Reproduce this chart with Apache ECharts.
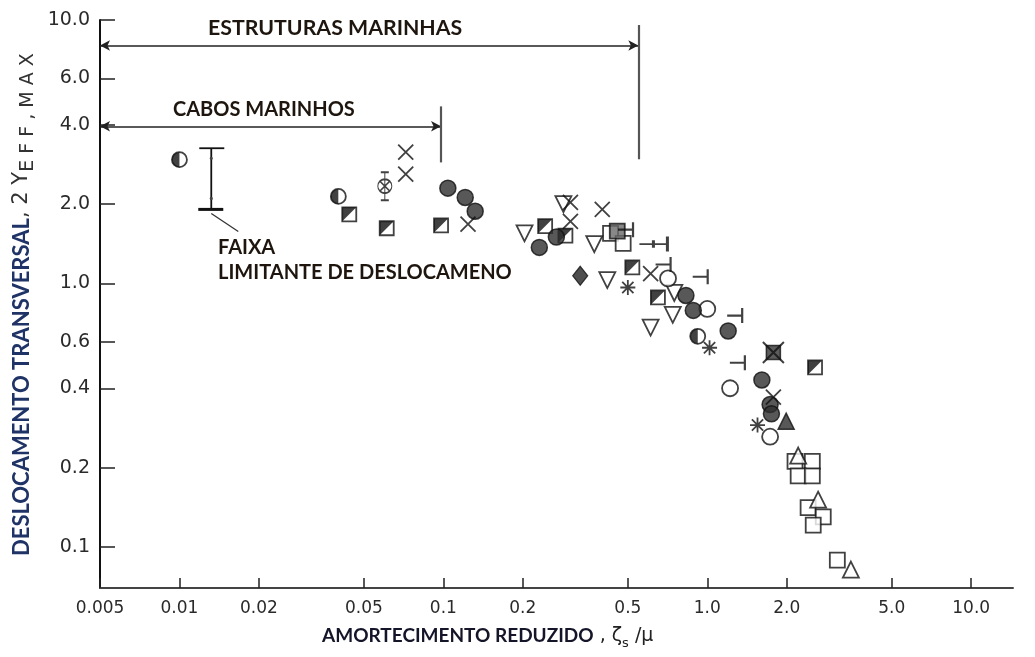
<!DOCTYPE html>
<html><head><meta charset="utf-8">
<script src="https://cdn.jsdelivr.net/npm/echarts@6/dist/echarts.min.js"></script>
<style>html,body{margin:0;padding:0;background:#fff}#c{width:1035px;height:657px}</style>
</head><body><div id="c"></div>
<script>
// ---- axis ticks ----
const xTicks = [0.005, 0.01, 0.02, 0.05, 0.1, 0.2, 0.5, 1, 2, 5, 10];
const xTickLabels = ['0.005', '0.01', '0.02', '0.05', '0.1', '0.2', '0.5', '1.0', '2.0', '5.0', '10.0'];
const yTicks = [0.1, 0.2, 0.4, 0.6, 1, 2, 4, 6, 10];
const yTickLabels = ['0.1', '0.2', '0.4', '0.6', '1.0', '2.0', '4.0', '6.0', '10.0'];

// ---- data points [reduced damping, 2Y_eff,max] by marker type ----
const halfCircle = [[0.010, 2.95], [0.040, 2.14], [0.92, 0.63]];
const halfSquare = [[0.044, 1.83], [0.061, 1.62], [0.098, 1.66], [0.243, 1.65], [0.29, 1.52], [0.52, 1.15], [0.65, 0.885], [2.56, 0.48]];
const crossedCircleBar = [[0.060, 2.34]];
const xMarks = [[0.072, 3.15], [0.072, 2.60], [0.124, 1.68], [0.303, 2.03], [0.303, 1.72], [0.40, 1.91], [0.61, 1.09], [1.78, 0.37]];
const filledCircle = [[0.104, 2.30], [0.121, 2.12], [0.132, 1.88], [0.231, 1.37], [0.268, 1.50], [0.83, 0.90], [0.885, 0.79], [1.20, 0.66], [1.61, 0.43], [1.73, 0.347], [1.75, 0.32]];
const greySquare = [[0.456, 1.58]];
const openSquare = [[0.43, 1.55], [0.48, 1.42], [2.15, 0.211], [2.50, 0.211], [2.21, 0.186], [2.50, 0.186], [2.41, 0.141], [2.75, 0.130], [2.52, 0.121], [3.11, 0.089]];
const triDown = [[0.203, 1.55], [0.285, 2.0], [0.373, 1.41], [0.418, 1.03], [0.75, 0.92], [0.74, 0.76], [0.61, 0.68]];
const openCircle = [[0.71, 1.045], [1.0, 0.80], [1.22, 0.40], [1.73, 0.262]];
const filledDiamond = [[0.33, 1.07]];
const asterisk = [[0.50, 0.965], [1.02, 0.57], [1.55, 0.29]];
const filledTriUp = [[1.99, 0.30]];
const openTriUp = [[2.21, 0.222], [2.63, 0.151], [3.5, 0.082]];
const crossedSquare = [[1.78, 0.547]];
const tBar = [[0.49, 1.60], [0.68, 1.18], [0.94, 1.06], [1.27, 0.755], [1.30, 0.50]];
const tBarWide = [[0.625, 1.41]];

// ---- annotations ----
const faixaRange = [[0.0132, 1.91, 3.26]];            // x, low, high
const estruturasSpan = [0.005, 0.548, 8.0];           // x from, x to, y
const estruturasBar = [0.548, 2.96, 9.57];            // x, y from, y to
const cabosSpan = [0.005, 0.098, 3.95];
const cabosBar = [0.098, 2.88, 4.7];

const K = '#111';
const openStyle = {color: '#fff', borderColor: K, borderWidth: 1.8};
const fillStyle = {color: '#2e2e2e', borderColor: K, borderWidth: 1.5};
const strokeStyle = {color: 'rgba(0,0,0,0)', borderColor: K, borderWidth: 2};

function sc(data, symbol, size, style, extra) {
  return Object.assign({type: 'scatter', data: data, symbol: symbol, symbolSize: size,
    itemStyle: style, silent: true, animation: false}, extra || {});
}
function lbl(ticks, labels) {
  return function (v) {
    for (let i = 0; i < ticks.length; i++) if (Math.abs(v - ticks[i]) / ticks[i] < 1e-6) return labels[i];
    return '';
  };
}

const chart = echarts.init(document.getElementById('c'));
const option = {
  backgroundColor: '#fff',
  animation: false,
  grid: {left: 100, right: 22, top: 20, bottom: 69},
  xAxis: {
    type: 'log', min: 0.005, max: 14.4, logBase: 10,
    axisLine: {show: true, lineStyle: {color: '#444', width: 2}},
    axisTick: {show: true, inside: true, length: 10, customValues: xTicks, lineStyle: {color: '#222', width: 1.5}},
    axisLabel: {customValues: xTicks, formatter: lbl(xTicks, xTickLabels), margin: 12,
      fontFamily: 'DejaVu Sans', fontSize: 17, color: '#2a2a2a'},
    splitLine: {show: false}, minorTick: {show: false}
  },
  yAxis: {
    type: 'log', min: 0.0698, max: 10, logBase: 10,
    axisLine: {show: true, lineStyle: {color: '#111', width: 2}},
    axisTick: {show: true, inside: true, length: 15, customValues: yTicks, lineStyle: {color: '#222', width: 1.5}},
    axisLabel: {customValues: yTicks, formatter: lbl(yTicks, yTickLabels), margin: 10,
      fontFamily: 'DejaVu Sans', fontSize: 19, color: '#2a2a2a'},
    splitLine: {show: false}, minorTick: {show: false}
  },
  series: [
    // annotation lines
    {
      type: 'line', data: [], silent: true, animation: false,
      markLine: {
        silent: true, animation: false, label: {show: false},
        lineStyle: {color: '#222', width: 1.6, type: 'solid'},
        symbol: ['arrow', 'arrow'], symbolSize: [8, 10],
        data: [
          [{coord: [estruturasSpan[0], estruturasSpan[2]]}, {coord: [estruturasSpan[1], estruturasSpan[2]]}],
          [{coord: [cabosSpan[0], cabosSpan[2]]}, {coord: [cabosSpan[1], cabosSpan[2]]}],
          [{coord: [estruturasBar[0], estruturasBar[1]], symbol: 'none'}, {coord: [estruturasBar[0], estruturasBar[2]], symbol: 'none', lineStyle: {color: '#555', width: 2.2}}],
          [{coord: [cabosBar[0], cabosBar[1]], symbol: 'none'}, {coord: [cabosBar[0], cabosBar[2]], symbol: 'none', lineStyle: {color: '#555', width: 2.2}}]
        ]
      }
    },
    // displacement limit range bar
    {
      type: 'custom', data: faixaRange, silent: true, animation: false,
      renderItem: function (params, api) {
        const lo = api.coord([api.value(0), api.value(1)]);
        const hi = api.coord([api.value(0), api.value(2)]);
        const st = {stroke: '#111', lineWidth: 1.8};
        return {type: 'group', children: [
          {type: 'line', shape: {x1: lo[0], y1: lo[1], x2: hi[0], y2: hi[1]}, style: st},
          {type: 'line', shape: {x1: hi[0] - 12, y1: hi[1], x2: hi[0] + 13, y2: hi[1]}, style: st},
          {type: 'line', shape: {x1: lo[0] - 13, y1: lo[1], x2: lo[0] + 12, y2: lo[1]}, style: {stroke: '#111', lineWidth: 3}},
          {type: 'circle', shape: {cx: hi[0], cy: hi[1] + 10, r: 1.6}, style: {fill: '#444'}},
          {type: 'circle', shape: {cx: lo[0], cy: lo[1] - 11, r: 1.6}, style: {fill: '#444'}},
          {type: 'line', shape: {x1: lo[0], y1: lo[1] + 4, x2: lo[0] + 27, y2: lo[1] + 22}, style: {stroke: '#333', lineWidth: 1.2}}
        ]};
      }
    },
    sc(openSquare, 'rect', 15, openStyle),
    sc(triDown, 'triangle', 16, openStyle, {symbolRotate: 180}),
    sc(openTriUp, 'triangle', 16, openStyle),
    sc(openCircle, 'circle', 16, openStyle),
    sc(halfCircle, 'circle', 15, openStyle),
    sc(halfCircle, 'path://M10,0 A10,10 0 0,0 10,20 Z', [7.5, 15], {color: K}, {symbolOffset: [-3.75, 0]}),
    sc(halfSquare, 'rect', 14, openStyle),
    sc(halfSquare, 'path://M0,0 L20,0 L0,20 Z', 14, {color: K}),
    sc(greySquare, 'rect', 15, {color: '#6a6a6a', borderColor: K, borderWidth: 1.8}),
    sc(crossedSquare, 'rect', 14, {color: '#333', borderColor: K, borderWidth: 1.5}),
    sc(crossedSquare, 'path://M0,0 L20,20 M20,0 L0,20', 21, strokeStyle),
    sc(filledCircle, 'circle', 16, fillStyle),
    sc(filledDiamond, 'diamond', [15, 19], {color: '#222', borderColor: K, borderWidth: 1.2}),
    sc(filledTriUp, 'triangle', 16, fillStyle),
    sc(xMarks, 'path://M0,0 L16,16 M16,0 L0,16', 15, {color: 'rgba(0,0,0,0)', borderColor: K, borderWidth: 1.8}),
    sc(asterisk, 'path://M8,0 L8,16 M0,8 L16,8 M2,2 L14,14 M14,2 L2,14', 15, {color: 'rgba(0,0,0,0)', borderColor: K, borderWidth: 1.8}),
    sc(tBar, 'path://M0,8 L16,8 M16,0 L16,16', [15, 15], {color: 'rgba(0,0,0,0)', borderColor: K, borderWidth: 2.2}),
    sc(tBarWide, 'path://M0,8 L28,8 M14,4 L14,12 M28,0 L28,16', [28, 15], {color: 'rgba(0,0,0,0)', borderColor: K, borderWidth: 2.2}),
    sc(crossedCircleBar, 'path://M10,0 L10,28 M6,0 L14,0 M6,28 L14,28 M17,14 A7,7 0 1,1 3,14 A7,7 0 1,1 17,14 M5,9 L15,19 M15,9 L5,19', [14, 28], {color: '#fff', borderColor: K, borderWidth: 1.4})
  ],
  graphic: [
    {type: 'text', x: 208, y: 28, silent: true, style: {text: 'ESTRUTURAS MARINHAS', fontFamily: 'Lato', fontWeight: 'bold', fontSize: 21.3, fill: '#1e160e', align: 'left', verticalAlign: 'middle'}},
    {type: 'text', x: 173, y: 110, silent: true, style: {text: 'CABOS MARINHOS', fontFamily: 'Lato', fontWeight: 'bold', fontSize: 20, fill: '#1e160e', align: 'left', verticalAlign: 'middle'}},
    {type: 'text', x: 218, y: 248, silent: true, style: {text: 'FAIXA', fontFamily: 'Lato', fontWeight: 'bold', fontSize: 20, fill: '#1e160e', align: 'left', verticalAlign: 'middle'}},
    {type: 'text', x: 218, y: 273, silent: true, style: {text: 'LIMITANTE DE DESLOCAMENO', fontFamily: 'Lato', fontWeight: 'bold', fontSize: 20, fill: '#1e160e', align: 'left', verticalAlign: 'middle'}},
    {type: 'text', x: 322, y: 636, silent: true, style: {
      text: '{a|AMORTECIMENTO REDUZIDO}{b| , ζ}{c|s}{b| /μ}', align: 'left', verticalAlign: 'middle',
      rich: {
        a: {fontFamily: 'Lato', fontWeight: 'bold', fontSize: 19, fill: '#15152a', lineHeight: 28, verticalAlign: 'middle'},
        b: {fontFamily: 'DejaVu Sans', fontSize: 19, fill: '#222', lineHeight: 28, verticalAlign: 'middle'},
        c: {fontFamily: 'DejaVu Sans', fontSize: 13, fill: '#222', lineHeight: 14, verticalAlign: 'bottom'}
      }}},
    {type: 'text', x: 22, y: 556, rotation: Math.PI / 2, silent: true, style: {
      text: '{a|DESLOCAMENTO TRANSVERSAL}{b|, 2 Y}{c|E F F , M A X}', align: 'left', verticalAlign: 'middle',
      rich: {
        a: {fontFamily: 'Lato', fontWeight: 'bold', fontSize: 22, fill: '#1f3366', lineHeight: 32, verticalAlign: 'middle'},
        b: {fontFamily: 'DejaVu Sans', fontSize: 21, fill: '#333', lineHeight: 32, verticalAlign: 'middle'},
        c: {fontFamily: 'DejaVu Sans', fontSize: 19, fill: '#333', lineHeight: 19, verticalAlign: 'bottom'}
      }}}
  ]
};
chart.setOption(option);
</script>
</body></html>
